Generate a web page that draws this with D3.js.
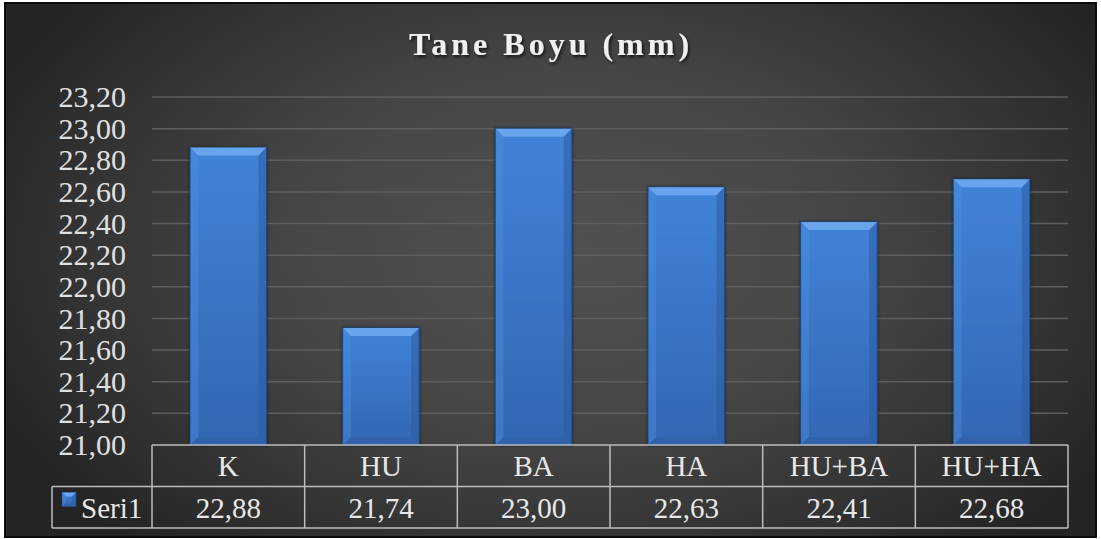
<!DOCTYPE html>
<html>
<head>
<meta charset="utf-8">
<script src="https://cdn.jsdelivr.net/npm/d3@7"></script>
<style>
  html, body { margin: 0; padding: 0; background: #ffffff; }
  svg { display: block; }
  text { font-family: "Liberation Serif", "Times New Roman", serif; }
</style>
</head>
<body>
<svg id="chart" width="1101" height="539"></svg>
<script>
// Grain length per treatment
const categories = ["K", "HU", "BA", "HA", "HU+BA", "HU+HA"];
const values = [22.88, 21.74, 23.00, 22.63, 22.41, 22.68];
const valueLabels = ["22,88", "21,74", "23,00", "22,63", "22,41", "22,68"];
const seriesName = "Seri1";
const titleText = "Tane Boyu (mm)";
const yTicks = [21.0, 21.2, 21.4, 21.6, 21.8, 22.0, 22.2, 22.4, 22.6, 22.8, 23.0, 23.2];

const frame = { x0: 5, y0: 3, x1: 1096, y1: 537 };
const plot = { left: 152, right: 1068, top: 97, bottom: 445 };
const rowH = 41.5;

const svg = d3.select("#chart");
const defs = svg.append("defs");

// dark radial background
const bg = defs.append("radialGradient").attr("id", "bgGrad")
  .attr("gradientUnits", "userSpaceOnUse")
  .attr("cx", 570).attr("cy", 250).attr("r", 640)
  .attr("gradientTransform", "translate(570,250) scale(1,0.62) translate(-570,-250)");
bg.append("stop").attr("offset", "0%").attr("stop-color", "#515151");
bg.append("stop").attr("offset", "45%").attr("stop-color", "#464646");
bg.append("stop").attr("offset", "80%").attr("stop-color", "#313131");
bg.append("stop").attr("offset", "100%").attr("stop-color", "#242424");

// bar fill
const barGrad = defs.append("linearGradient").attr("id", "barGrad")
  .attr("x1", 0).attr("y1", 0).attr("x2", 0).attr("y2", 1);
barGrad.append("stop").attr("offset", "0%").attr("stop-color", "#4183d8");
barGrad.append("stop").attr("offset", "100%").attr("stop-color", "#3367b2");

const shadow = defs.append("filter").attr("id", "titleShadow")
  .attr("x", "-10%").attr("y", "-30%").attr("width", "120%").attr("height", "160%");
shadow.append("feDropShadow").attr("dx", 1.5).attr("dy", 2).attr("stdDeviation", 1.5)
  .attr("flood-color", "#000").attr("flood-opacity", 0.7);

const barShadow = defs.append("filter").attr("id", "barShadow")
  .attr("x", "-20%").attr("y", "-20%").attr("width", "140%").attr("height", "140%");
barShadow.append("feDropShadow").attr("dx", 0).attr("dy", 0).attr("stdDeviation", 1.5)
  .attr("flood-color", "#0a1a33").attr("flood-opacity", 0.8);

svg.append("rect")
  .attr("x", frame.x0).attr("y", frame.y0)
  .attr("width", frame.x1 - frame.x0).attr("height", frame.y1 - frame.y0)
  .attr("fill", "url(#bgGrad)")
  .attr("stroke", "#0d0d0d").attr("stroke-width", 2);

// scales
const x = d3.scaleBand().domain(categories)
  .range([plot.left, plot.right]).paddingInner(0.5).paddingOuter(0.25);
const xCell = d3.scaleBand().domain(categories).range([plot.left, plot.right]).padding(0);
const y = d3.scaleLinear().domain([21.0, 23.2]).range([plot.bottom, plot.top]);

// gridlines
svg.append("g").selectAll("line").data(yTicks.slice(1)).join("line")
  .attr("x1", plot.left).attr("x2", plot.right)
  .attr("y1", d => y(d)).attr("y2", d => y(d))
  .attr("stroke", "#5e5e5e").attr("stroke-width", 1.5);

// y axis labels
const fmt = d => d.toFixed(2).replace(".", ",");
const yAxis = d3.axisLeft(y).tickValues(yTicks).tickFormat(fmt).tickSize(0).tickPadding(26);
const yg = svg.append("g").attr("transform", `translate(${plot.left},0)`).call(yAxis);
yg.select(".domain").remove();
yg.selectAll("text")
  .attr("fill", "#e0e0e0")
  .style("font-size", "30px")
  .style("font-family", "'Liberation Serif', 'Times New Roman', serif");

// bevelled bars
const bev = 8;
function bevelParts(x0, y0, w, h, b) {
  const x1 = x0 + w, y1 = y0 + h;
  return [
    { pts: [[x0, y0], [x1, y0], [x1 - b, y0 + b], [x0 + b, y0 + b]], fill: "#6aa6ee", op: 0.95 },
    { pts: [[x0, y0], [x0 + b, y0 + b], [x0 + b, y1 - b], [x0, y1]], fill: "#4a8de0", op: 0.45 },
    { pts: [[x1, y0], [x1, y1], [x1 - b, y1 - b], [x1 - b, y0 + b]], fill: "#2a5a9e", op: 0.5 },
    { pts: [[x0, y1], [x0 + b, y1 - b], [x1 - b, y1 - b], [x1, y1]], fill: "#2c5c9f", op: 0.4 }
  ];
}

const bars = svg.append("g").selectAll("g").data(categories.map((c, i) => ({ c, v: values[i] })))
  .join("g");
bars.append("rect")
  .attr("x", d => x(d.c)).attr("y", d => y(d.v))
  .attr("width", x.bandwidth()).attr("height", d => y(21.0) - y(d.v))
  .attr("fill", "url(#barGrad)")
  .attr("stroke", "#1f4478").attr("stroke-width", 1)
  .attr("filter", "url(#barShadow)");
bars.each(function(d) {
  const g = d3.select(this);
  const parts = bevelParts(x(d.c), y(d.v), x.bandwidth(), y(21.0) - y(d.v), bev);
  g.selectAll("polygon").data(parts).join("polygon")
    .attr("points", p => p.pts.map(q => q.join(",")).join(" "))
    .attr("fill", p => p.fill).attr("opacity", p => p.op);
});

// data table below the plot
const lineCol = "#bdbdbd";
const tbl = svg.append("g");
const legendLeft = 52;
const r0 = plot.bottom, r1 = plot.bottom + rowH, r2 = plot.bottom + 2 * rowH;

tbl.append("line").attr("x1", plot.left).attr("x2", plot.right).attr("y1", r0).attr("y2", r0);
tbl.append("line").attr("x1", legendLeft).attr("x2", plot.right).attr("y1", r1).attr("y2", r1);
tbl.append("line").attr("x1", legendLeft).attr("x2", plot.right).attr("y1", r2).attr("y2", r2);
tbl.append("line").attr("x1", legendLeft).attr("x2", legendLeft).attr("y1", r1).attr("y2", r2);
const vEdges = categories.map(c => xCell(c)).concat([plot.right]);
tbl.selectAll("line.v").data(vEdges).join("line").attr("class", "v")
  .attr("x1", d => d).attr("x2", d => d).attr("y1", r0).attr("y2", r2);
tbl.selectAll("line").attr("stroke", lineCol).attr("stroke-width", 1.5);

const cellText = (sel) => sel.attr("fill", "#e8e8e8").style("font-size", "29px").attr("text-anchor", "middle");
tbl.selectAll("text.cat").data(categories).join("text").attr("class", "cat")
  .attr("x", d => xCell(d) + xCell.bandwidth() / 2).attr("y", r0 + 31)
  .text(d => d).call(cellText);
tbl.selectAll("text.val").data(valueLabels).join("text").attr("class", "val")
  .attr("x", (d, i) => xCell(categories[i]) + xCell.bandwidth() / 2).attr("y", r1 + 31)
  .text(d => d).call(cellText);

// legend key
const kx = 62, ky = r1 + 6, ks = 14;
tbl.append("rect").attr("x", kx).attr("y", ky).attr("width", ks).attr("height", ks)
  .attr("fill", "url(#barGrad)").attr("stroke", "#1f4478").attr("stroke-width", 0.8);
tbl.append("g").selectAll("polygon").data(bevelParts(kx, ky, ks, ks, 4)).join("polygon")
  .attr("points", p => p.pts.map(q => q.join(",")).join(" "))
  .attr("fill", p => p.fill).attr("opacity", p => p.op);
tbl.append("text").attr("x", 81).attr("y", r1 + 31).text(seriesName)
  .attr("fill", "#e8e8e8").style("font-size", "29px");

// title
svg.append("text")
  .attr("x", 551).attr("y", 55)
  .attr("text-anchor", "middle")
  .attr("fill", "#f0f0f0")
  .attr("filter", "url(#titleShadow)")
  .style("font-size", "32px").style("font-weight", "bold").style("letter-spacing", "4px")
  .text(titleText);
</script>
</body>
</html>
